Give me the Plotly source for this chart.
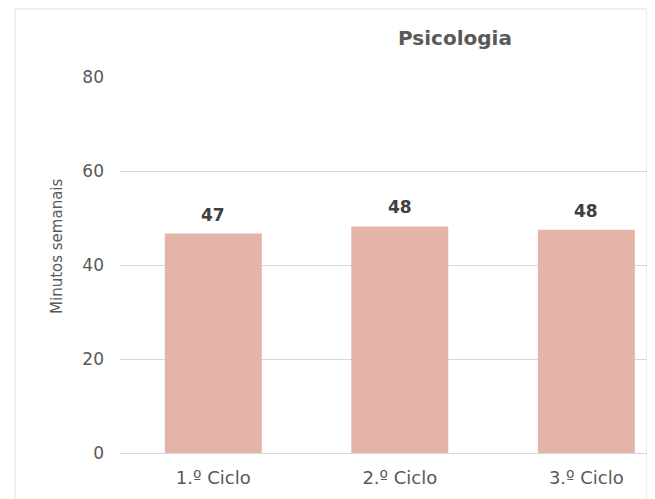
import plotly.graph_objects as go

categories = ["1.º Ciclo", "2.º Ciclo", "3.º Ciclo"]
values = [46.7, 48.2, 47.5]
labels = ["47", "48", "48"]
title_text = "Psicologia"
y_title = "Minutos semanais"
y_ticks = [0, 20, 40, 60, 80]

FONT = "DejaVu Sans"
BAR = "#E5B4A9"
GRID = "#D9D9D9"
TXT = "#595959"

fig = go.Figure(go.Bar(
    x=categories, y=values, marker=dict(color=BAR, line=dict(width=0)),
    width=0.52, hoverinfo="skip"))

for c, v, t in zip(categories, values, labels):
    fig.add_annotation(x=c, y=v, text="<b>%s</b>" % t, showarrow=False,
                       yanchor="bottom", yshift=7,
                       font=dict(family=FONT, size=17, color="#404040"))

fig.add_annotation(xref="paper", yref="paper", x=-0.116, y=0.548,
                   xanchor="center", yanchor="middle",
                   text=y_title, textangle=-90, showarrow=False,
                   font=dict(family=FONT, size=15, color=TXT))

fig.add_annotation(xref="paper", yref="paper", x=0.617, y=1.104,
                   xanchor="center", yanchor="middle",
                   text="<b>%s</b>" % title_text, showarrow=False,
                   font=dict(family=FONT, size=20, color="#595959"))

fig.update_layout(
    width=655, height=499,
    margin=dict(l=112, r=0, t=69, b=54),
    paper_bgcolor="white", plot_bgcolor="white",
    showlegend=False,
    shapes=[dict(type="rect", xref="paper", yref="paper",
                 x0=-0.1934, x1=0.9705, y0=-0.3, y1=1.181,
                 line=dict(color="#E0E0E0", width=1), layer="below")],
    xaxis=dict(range=[-0.5, 2.411], showgrid=False, zeroline=False,
               showline=False, ticks="", ticklabelstandoff=12,
               tickfont=dict(family=FONT, size=18, color=TXT),
               fixedrange=True),
    yaxis=dict(range=[0, 80], tickvals=y_ticks, showgrid=True,
               gridcolor=GRID, gridwidth=1, zeroline=True,
               zerolinecolor=GRID, zerolinewidth=1, showline=False,
               ticks="", ticklabelstandoff=15,
               tickfont=dict(family=FONT, size=17, color=TXT),
               fixedrange=True),
)

fig.write_html("out.html")
